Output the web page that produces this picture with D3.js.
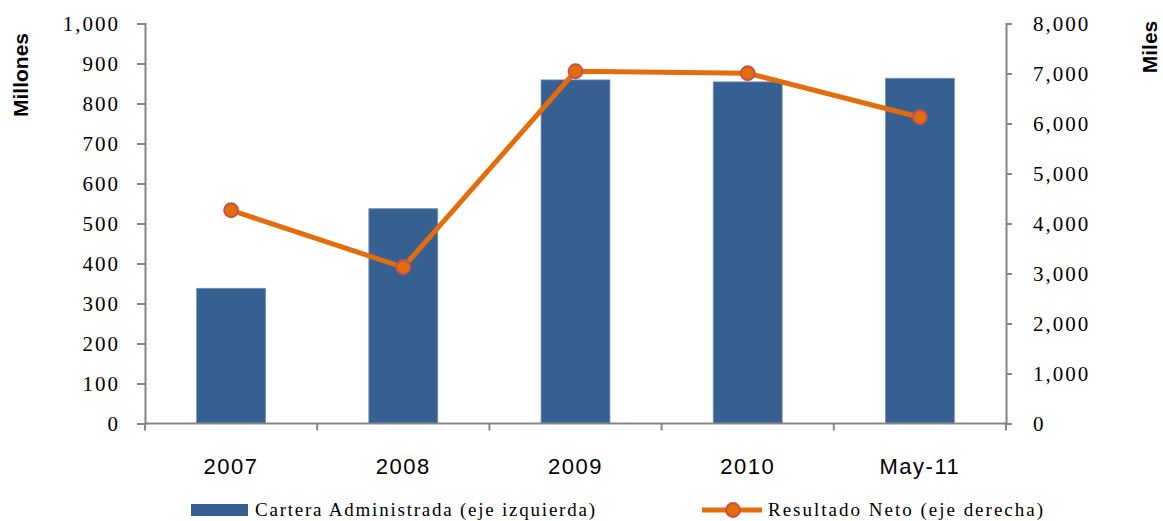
<!DOCTYPE html>
<html>
<head>
<meta charset="utf-8">
<script src="https://cdn.jsdelivr.net/npm/d3@7/dist/d3.min.js"></script>
<style>
  html, body { margin: 0; padding: 0; background: #fff; }
  svg { display: block; }
</style>
</head>
<body>
<svg id="chart" width="1163" height="521"></svg>
<script>
// Categories and series
const categories = ["2007", "2008", "2009", "2010", "May-11"];
const cartera = [338, 537, 859, 854, 863];          // Millones (eje izquierdo)
const resultado = [4265, 3125, 7045, 7005, 6125];   // Miles (eje derecho)
const leftTicks = [0, 100, 200, 300, 400, 500, 600, 700, 800, 900, 1000];
const rightTicks = [0, 1000, 2000, 3000, 4000, 5000, 6000, 7000, 8000];
const seriesNames = ["Cartera Administrada (eje izquierda)", "Resultado Neto (eje derecha)"];

const BAR = "#376092", LINE = "#E46C0A", MARK_STROKE = "#C0504D", AXIS = "#868686";
const serif = "'Liberation Serif', 'DejaVu Serif', serif";
const sans = "'Liberation Sans', Arial, sans-serif";

const svg = d3.select("#chart");
const plot = { left: 145, right: 1006, top: 23.5, bottom: 423.5 };

const x = d3.scaleBand().domain(categories).range([plot.left, plot.right]).paddingInner(0).paddingOuter(0);
const yL = d3.scaleLinear().domain([0, 1000]).range([plot.bottom, plot.top]);
const yR = d3.scaleLinear().domain([0, 8000]).range([plot.bottom, plot.top]);
const fmt = d3.format(",");

// Bars
const barW = x.bandwidth() * 0.4;
svg.append("g").selectAll("rect").data(categories).join("rect")
  .attr("x", (d) => x(d) + (x.bandwidth() - barW) / 2)
  .attr("y", (d, i) => yL(cartera[i]))
  .attr("width", barW)
  .attr("height", (d, i) => yL(0) - yL(cartera[i]))
  .attr("fill", BAR)
  .attr("stroke", "#6f8fb8").attr("stroke-width", 0.8);

// Left axis
const gL = svg.append("g").attr("transform", `translate(${plot.left},0)`)
  .call(d3.axisLeft(yL).tickValues(leftTicks).tickFormat(fmt).tickSize(8).tickPadding(19));
// Right axis
const gR = svg.append("g").attr("transform", `translate(${plot.right},0)`)
  .call(d3.axisRight(yR).tickValues(rightTicks).tickFormat(fmt).tickSize(6).tickPadding(21));
[gL, gR].forEach(g => {
  g.select(".domain").attr("stroke", AXIS).attr("stroke-width", 2);
  g.selectAll(".tick line").attr("stroke", AXIS).attr("stroke-width", 2);
  g.selectAll(".tick text").attr("fill", "#000").attr("font-family", serif)
    .attr("font-size", 21).attr("letter-spacing", "2px").attr("dy", "0.33em");
});
gL.selectAll(".tick text").attr("dx", "2px");

// Category axis
const gX = svg.append("g").attr("transform", `translate(0,${plot.bottom})`);
gX.append("line").attr("x1", plot.left).attr("x2", plot.right)
  .attr("stroke", AXIS).attr("stroke-width", 2);
const bounds = categories.map(c => x(c)).concat([plot.right]);
gX.selectAll("line.tk").data(bounds).join("line").attr("class", "tk")
  .attr("x1", d => d).attr("x2", d => d).attr("y1", 0).attr("y2", 7)
  .attr("stroke", AXIS).attr("stroke-width", 2);
gX.selectAll("text").data(categories).join("text")
  .attr("x", d => x(d) + x.bandwidth() / 2)
  .attr("y", 50)
  .attr("text-anchor", "middle")
  .attr("font-family", sans).attr("font-size", 22).attr("letter-spacing", "1.5px")
  .text(d => d);

// Axis titles
svg.append("text").attr("transform", "translate(28,75) rotate(-90)")
  .attr("text-anchor", "middle").attr("font-family", sans).attr("font-weight", "bold")
  .attr("font-size", 21).text("Millones");
svg.append("text").attr("transform", "translate(1157,47) rotate(-90)")
  .attr("text-anchor", "middle").attr("font-family", sans).attr("font-weight", "bold")
  .attr("font-size", 21).text("Miles");

// Line series
const line = d3.line().x((d, i) => x(categories[i]) + x.bandwidth() / 2).y(d => yR(d));
svg.append("path").datum(resultado).attr("d", line)
  .attr("fill", "none").attr("stroke", LINE).attr("stroke-width", 5).attr("stroke-linejoin", "round");
svg.append("g").selectAll("circle").data(resultado).join("circle")
  .attr("cx", (d, i) => x(categories[i]) + x.bandwidth() / 2)
  .attr("cy", d => yR(d))
  .attr("r", 7)
  .attr("fill", LINE).attr("stroke", MARK_STROKE).attr("stroke-width", 1.8);

// Legend
const lg = svg.append("g");
lg.append("rect").attr("x", 191).attr("y", 504).attr("width", 57).attr("height", 12).attr("fill", BAR);
lg.append("text").attr("x", 255).attr("y", 516).attr("font-family", serif).attr("font-size", 19)
  .attr("textLength", 340).attr("lengthAdjust", "spacing").text(seriesNames[0]);
lg.append("line").attr("x1", 702).attr("x2", 762).attr("y1", 510).attr("y2", 510)
  .attr("stroke", LINE).attr("stroke-width", 5);
lg.append("circle").attr("cx", 733).attr("cy", 510).attr("r", 7)
  .attr("fill", LINE).attr("stroke", MARK_STROKE).attr("stroke-width", 1.8);
lg.append("text").attr("x", 768).attr("y", 516).attr("font-family", serif).attr("font-size", 19)
  .attr("textLength", 275).attr("lengthAdjust", "spacing").text(seriesNames[1]);
</script>
</body>
</html>
